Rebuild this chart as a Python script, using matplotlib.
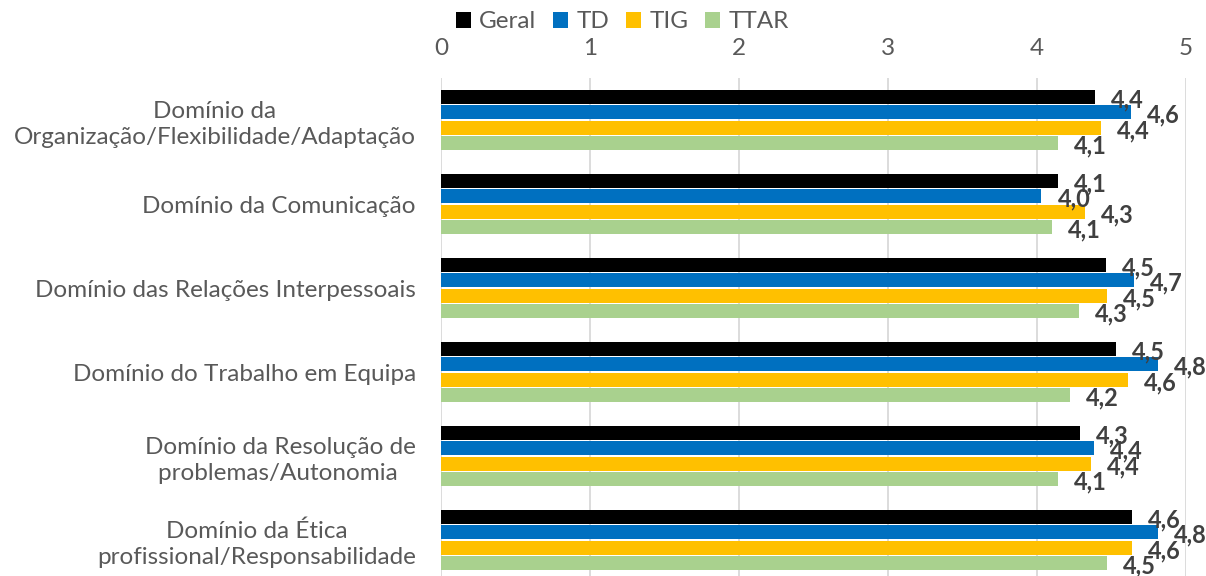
import matplotlib
matplotlib.use("Agg")
import matplotlib.pyplot as plt
import numpy as np

categories = [
    "Domínio da\nOrganização/Flexibilidade/Adaptação",
    "Domínio da Comunicação",
    "Domínio das Relações Interpessoais",
    "Domínio do Trabalho em Equipa",
    "Domínio da Resolução de\nproblemas/Autonomia ",
    "Domínio da Ética\nprofissional/Responsabilidade",
]
series_names = ["Geral", "TD", "TIG", "TTAR"]
geral = [4.39, 4.14, 4.46, 4.53, 4.29, 4.64]
td    = [4.63, 4.03, 4.65, 4.81, 4.38, 4.81]
tig   = [4.43, 4.32, 4.47, 4.61, 4.36, 4.64]
ttar  = [4.14, 4.10, 4.28, 4.22, 4.14, 4.47]
values = [geral, td, tig, ttar]
colors = ["#000000", "#0070C0", "#FFC000", "#A9D18E"]
xticks = [0, 1, 2, 3, 4, 5]

plt.rcParams['font.family'] = ['Lato', 'DejaVu Sans']

W, H = 1206, 576
fig = plt.figure(figsize=(W/100, H/100), dpi=100)
left, right = 441/W, 1186/W
top_px, bot_px = 78, 582
ax = fig.add_axes([left, 1 - bot_px/H, right - left, (bot_px - top_px)/H])

n = len(categories)
y = np.arange(n)
slot = 0.185
bh = 0.165
for i, (name, vals, c) in enumerate(zip(series_names, values, colors)):
    pos = y - 1.5*slot + i*slot
    ax.barh(pos, vals, height=bh, color=c, label=name, zorder=3)
    for p, v in zip(pos, vals):
        ax.annotate(f"{v:.1f}".replace(".", ","), xy=(v, p), xytext=(16, -3),
                    textcoords="offset pixels", ha="left", va="center",
                    fontsize=17, fontweight="bold", color="#404040", zorder=4)

ax.set_ylim(n - 0.5, -0.5)
ax.set_xlim(0, 5)
ax.set_xticks(xticks)
ax.xaxis.tick_top()
ax.tick_params(axis="x", length=0, pad=14, labelsize=17.5, labelcolor="#595959")
ax.set_yticks(y)
ax.set_yticklabels(categories)
ax.tick_params(axis="y", length=0, pad=18, labelsize=17.5, labelcolor="#595959")
for lab in ax.get_yticklabels():
    lab.set_multialignment("center")
    lab.set_linespacing(1.3)
ax.grid(axis="x", color="#D9D9D9", linewidth=1.3, zorder=0)
for s in ax.spines.values():
    s.set_visible(False)

leg = fig.legend(loc="center left", bbox_to_anchor=(456/W, 1 - 22/H), ncol=4,
                 frameon=False, fontsize=17.5, handlelength=0.6, handleheight=0.6,
                 handletextpad=0.35, columnspacing=0.7, borderaxespad=0,
                 borderpad=0)
for t in leg.get_texts():
    t.set_color("#595959")

fig.savefig("out.png", dpi=100)
